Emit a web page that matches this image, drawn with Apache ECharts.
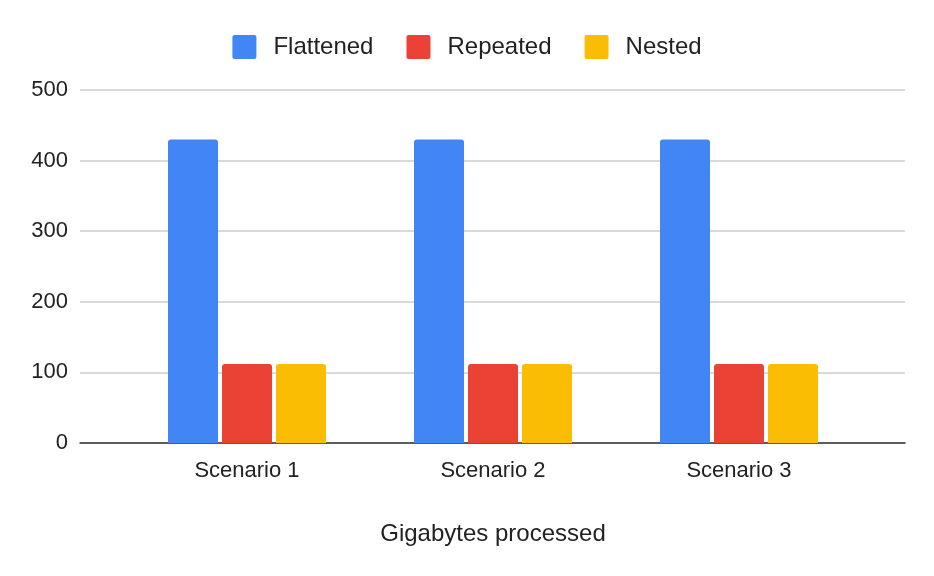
<!DOCTYPE html>
<html lang="en">
  <head>
    <meta charset="UTF-8" />
    <title>Gigabytes processed</title>
    <script src="https://cdn.jsdelivr.net/npm/echarts@6/dist/echarts.min.js"></script>
    <style>
      html, body { margin: 0; padding: 0; background: #fff; }
    </style>
  </head>

  <body>
    <div id="main" style="width: 934px; height: 576px"></div>
    <script type="text/javascript">
      const categories = ["Scenario 1", "Scenario 2", "Scenario 3"];
      const flattened = [430, 430, 430];
      const repeated = [112, 112, 112];
      const nested = [112, 112, 112];
      const yTicks = [0, 100, 200, 300, 400, 500];

      const font = "Liberation Sans, Arial, sans-serif";
      const radius = [3, 3, 0, 0];
      // square legend swatch with only slightly rounded corners
      const swatch = "path://M2,0H22Q24,0 24,2V22Q24,24 22,24H2Q0,24 0,22V2Q0,0 2,0Z";

      let myChart = echarts.init(document.getElementById("main"));

      let options = {
        animation: false,
        textStyle: { fontFamily: font },
        legend: {
          top: 30,
          left: "center",
          itemWidth: 24,
          itemHeight: 24,
          itemGap: 33,
          icon: swatch,
          textStyle: { fontSize: 24, color: "#222", fontFamily: font, padding: [0, 0, 0, 12] },
          data: ["Flattened", "Repeated", "Nested"],
        },
        grid: [
          { left: 80, right: 29, top: 90, bottom: 133, containLabel: false },
          { left: 124, right: 72, top: 90, bottom: 133, containLabel: false },
        ],
        xAxis: [
          {
            gridIndex: 0,
            type: "category",
            data: categories,
            axisLine: { lineStyle: { color: "#333", width: 1.5 } },
            axisTick: { show: false },
            axisLabel: { show: false },
          },
          {
            gridIndex: 1,
            type: "category",
            data: categories,
            name: "Gigabytes processed",
            nameLocation: "middle",
            nameGap: 79,
            nameTextStyle: { fontSize: 24, color: "#222", fontFamily: font },
            axisLine: { show: false },
            axisTick: { show: false },
            axisLabel: { fontSize: 22, color: "#222", margin: 17, fontFamily: font },
          },
        ],
        yAxis: [
          {
            gridIndex: 0,
            type: "value",
            min: yTicks[0],
            max: yTicks[yTicks.length - 1],
            interval: 100,
            axisLine: { show: false },
            axisTick: { show: false },
            axisLabel: { fontSize: 22, color: "#222", margin: 12, fontFamily: font },
            splitLine: { lineStyle: { color: "#ccc", width: 1.5 } },
          },
          {
            gridIndex: 1,
            type: "value",
            min: yTicks[0],
            max: yTicks[yTicks.length - 1],
            interval: 100,
            show: false,
            splitLine: { show: false },
          },
        ],
        series: [
          {
            name: "Flattened",
            type: "bar",
            xAxisIndex: 1,
            yAxisIndex: 1,
            data: flattened,
            barWidth: 50,
            barGap: "8%",
            itemStyle: { color: "#4285f4", borderRadius: radius },
          },
          {
            name: "Repeated",
            type: "bar",
            xAxisIndex: 1,
            yAxisIndex: 1,
            data: repeated,
            barWidth: 50,
            barGap: "8%",
            itemStyle: { color: "#ea4335", borderRadius: radius },
          },
          {
            name: "Nested",
            type: "bar",
            xAxisIndex: 1,
            yAxisIndex: 1,
            data: nested,
            barWidth: 50,
            barGap: "8%",
            itemStyle: { color: "#fbbc04", borderRadius: radius },
          },
        ],
      };
      myChart.setOption(options);
    </script>
  </body>
</html>
